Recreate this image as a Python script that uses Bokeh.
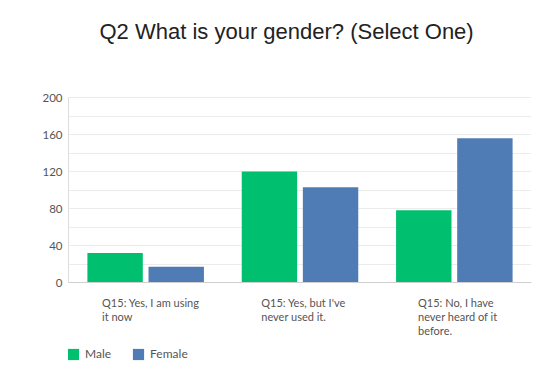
from bokeh.plotting import figure
from bokeh.models import (ColumnDataSource, FactorRange, Legend, LegendItem, FixedTicker,
                          SingleIntervalTicker, Range1d, Span, Label)
from bokeh.core.properties import value
from bokeh.transform import dodge
from bokeh.embed import file_html
from bokeh.resources import INLINE

title_text = "Q2 What is your gender? (Select One)"
categories = ["Q15: Yes, I am using\nit now",
              "Q15: Yes, but I've\nnever used it.",
              "Q15: No, I have\nnever heard of it\nbefore."]
male = [32, 120, 78]
female = [17, 103, 156]
y_ticks = [0, 40, 80, 120, 160, 200]

# horizontal shift that centres each left-aligned label block under its group
label_shift = [-2.43 * max(len(s) for s in c.split("\n")) + 5 for c in categories]

source = ColumnDataSource(data=dict(cat=categories, male=male, female=female,
                                    base=[0] * len(categories), shift=label_shift))

# the frame spans the full canvas height: value 200 at 97px, value 0 at 282px
H = 375
px_per_unit = (282 - 97) / 200
y_start = -(H - 282) / px_per_unit
y_end = 200 + 97 / px_per_unit

p = figure(width=554, height=H, x_range=FactorRange(*categories, range_padding=0),
           y_range=Range1d(y_start, y_end), output_backend="svg", toolbar_location=None,
           min_border_left=68, min_border_right=23, min_border_top=0, min_border_bottom=0)

GREEN = "#00bf6f"
BLUE = "#507cb6"
r1 = p.vbar(x=dodge("cat", -0.198, range=p.x_range), top="male", width=0.359, source=source,
            fill_color=GREEN, line_color=None)
r2 = p.vbar(x=dodge("cat", 0.198, range=p.x_range), top="female", width=0.359, source=source,
            fill_color=BLUE, line_color=None)

p.add_layout(Label(x=31, y=H - 31, x_units="screen", y_units="screen", text=title_text,
                   text_align="left", text_baseline="middle",
                   text_font="Liberation Sans", text_font_size="22px",
                   text_color="#222222"))

p.outline_line_color = None
p.xgrid.grid_line_color = None
p.xaxis.visible = False
p.ygrid.ticker = SingleIntervalTicker(interval=20)
p.ygrid.grid_line_color = "#ececec"
p.ygrid.bounds = (0, 200)

p.add_layout(Span(location=0, dimension="width", line_color="#cfcfcf", line_width=1))

p.yaxis.ticker = FixedTicker(ticks=y_ticks)
p.yaxis.bounds = (0, 200)
p.yaxis.major_tick_line_color = None
p.yaxis.minor_tick_line_color = None
p.yaxis.axis_line_color = "#dddddd"
p.yaxis.major_label_text_font = "Lato"
p.yaxis.major_label_text_font_size = "11.5px"
p.yaxis.major_label_text_color = "#555555"
p.yaxis.major_label_standoff = 0

p.text(x="cat", y="base", text="cat", source=source,
       x_offset="shift", y_offset=13, text_align="left", text_baseline="top",
       text_font=value("Lato"), text_font_size="11px", text_color="#555555",
       text_line_height=1.08)

legend = Legend(items=[LegendItem(label="Male", renderers=[r1]),
                       LegendItem(label="Female", renderers=[r2])],
                orientation="horizontal", location=(-2, 14),
                glyph_width=14, glyph_height=14, label_standoff=5, spacing=20,
                label_text_font="Lato", label_text_font_size="12px",
                label_text_color="#555555", border_line_color=None,
                background_fill_alpha=0, padding=0, margin=0)
p.add_layout(legend)

open("out.html", "w").write(file_html(p, INLINE))
